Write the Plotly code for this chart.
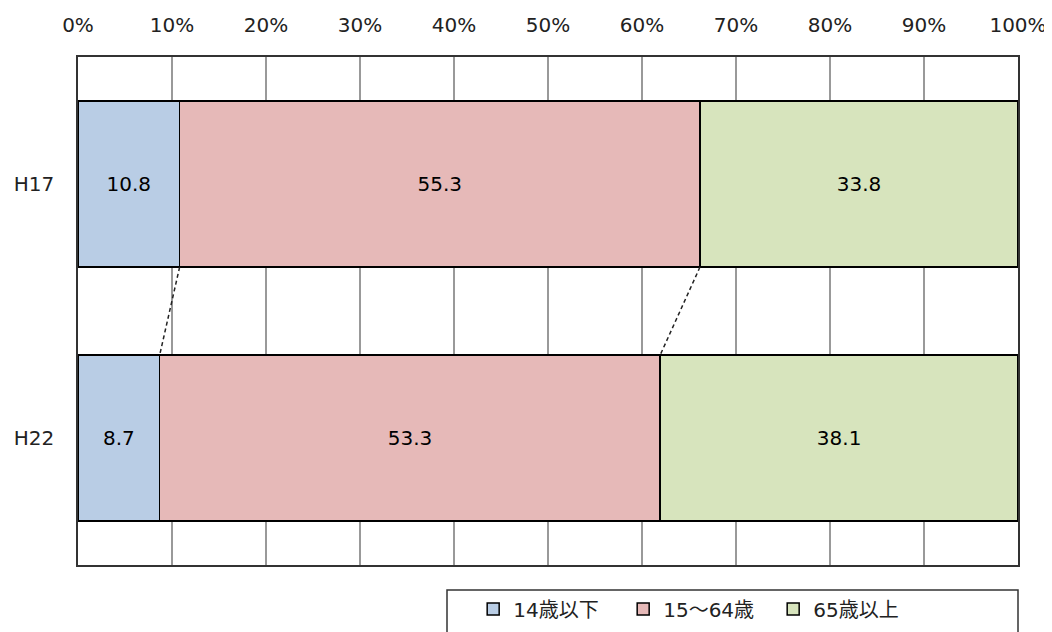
import plotly.graph_objects as go

categories = ["H17", "H22"]
series_names = ["14歳以下", "15～64歳", "65歳以上"]
values = {
    "14歳以下": [10.8, 8.7],
    "15～64歳": [55.3, 53.3],
    "65歳以上": [33.8, 38.1],
}
colors = ["#B9CDE5", "#E6B9B8", "#D7E4BD"]
tick_vals = [0, 10, 20, 30, 40, 50, 60, 70, 80, 90, 100]

FONT = "DejaVu Sans, Noto Sans CJK JP, sans-serif"
BAR_WIDTH = 0.654

fig = go.Figure()
for name, col in zip(series_names, colors):
    fig.add_trace(go.Bar(
        y=categories, x=values[name], name=name, orientation="h",
        marker=dict(color=col, line=dict(color="#000000", width=1.5)),
        text=[f"{v:.1f}" for v in values[name]],
        textposition="inside", insidetextanchor="middle", textangle=0,
        textfont=dict(family=FONT, size=20, color="#000000"),
        constraintext="none", hoverinfo="skip",
    ))

# series lines (dashed) between cumulative boundaries
totals = [sum(values[n][i] for n in series_names) for i in range(len(categories))]
cum = []
for i in range(len(categories)):
    acc = 0
    row = []
    for n in series_names[:-1]:
        acc += values[n][i]
        row.append(acc / totals[i] * 100)
    cum.append(row)
for k in range(len(series_names) - 1):
    fig.add_trace(go.Scatter(
        x=[cum[0][k], cum[1][k]],
        y=[0 + BAR_WIDTH / 2, 1 - BAR_WIDTH / 2],
        mode="lines", showlegend=False, hoverinfo="skip",
        line=dict(color="#222222", width=1.5, dash="4px,3px"),
        yaxis="y2",
    ))

fig.update_layout(
    width=1044, height=624,
    margin=dict(l=70, r=34, t=49, b=67, autoexpand=False),
    paper_bgcolor="white", plot_bgcolor="white",
    barmode="stack", barnorm="percent", bargap=1 - BAR_WIDTH,
    font=dict(family=FONT, size=20, color="#222222"),
    xaxis=dict(
        side="top", range=[0, 100], tickvals=tick_vals,
        ticktext=[f"{v}%" for v in tick_vals],
        showgrid=True, gridcolor="#999999", gridwidth=1.5,
        showline=True, mirror=True, linecolor="#333333", linewidth=1.5,
        zeroline=False, ticks="", ticklabelstandoff=15, automargin=False,
        tickfont=dict(family=FONT, size=20, color="#222222"),
    ),
    yaxis=dict(
        type="category", categoryorder="array", categoryarray=categories,
        range=[1.5, -0.5], showgrid=False,
        showline=True, mirror=True, linecolor="#333333", linewidth=1.5,
        ticks="", ticklabelstandoff=18, automargin=False,
        tickfont=dict(family=FONT, size=20, color="#222222"),
    ),
    yaxis2=dict(range=[1.5, -0.5], overlaying="y", visible=False),
    showlegend=True,
    legend=dict(
        orientation="h", x=0.4204, xanchor="left", y=-0.0866, yanchor="middle",
        font=dict(family=FONT, size=20, color="#222222"),
        bgcolor="rgba(0,0,0,0)", traceorder="normal",
        entrywidth=105, itemwidth=30,
    ),
    shapes=[dict(
        type="rect", xref="paper", yref="paper",
        x0=(447 - 78) / 940, x1=1.0, y0=-0.3, y1=-(590 - 565) / 508,
        line=dict(color="#333333", width=1.5), fillcolor="rgba(0,0,0,0)",
        layer="above",
    )],
)

fig.write_html("out.html")
